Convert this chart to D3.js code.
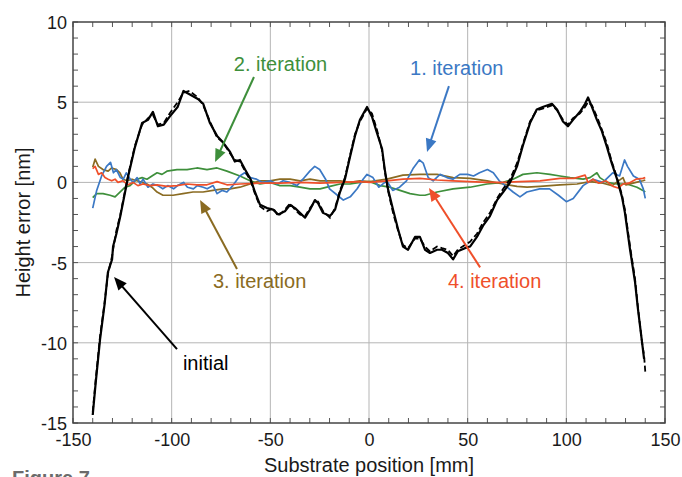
<!DOCTYPE html>
<html><head><meta charset="utf-8">
<script src="https://cdn.jsdelivr.net/npm/d3@7/dist/d3.min.js"></script>
<style>
body{margin:0;background:#fff}
text{font-family:"Liberation Sans",Arial,Helvetica,sans-serif}
</style>
</head><body>
<svg id="chart" width="682" height="477"></svg>
<script>
// ---------- data ----------
const xTicks = [-150,-100,-50,0,50,100,150];
const yTicks = [10,5,0,-5,-10,-15];

const initialPos = [-140,-138.5,-136.3,-134,-132.3,-130.2,-129.7,-128,-126,-122,-118.6,-115,-112,-109.5,-107,-104,-101,-97,-94,-91,-86.7,-84,-80.6,-77,-74,-70.4,-68,-65.4,-62.8,-60,-57.8,-55.2,-51.7,-48.6,-46,-42.6,-40,-37.5,-35,-32.4,-29.9,-27.4,-25.8,-23.3,-19.8,-17.2,-14.7,-12.2,-9.6,-7.1,-4.6,-1,1.5,4,6.6,8,9.6,12.2,14.7,17.2,19.8,23.3,25.8,28.4,30.9,34.5,37,40,42.6,45,48.6,51.2,54.7,57.8,61.3,64.9,68,71.5,75,78,81.6,85,88,92.7,95.3,98.3,100.8,103.4,106.9,109.5,111,113,115.5,118,120.6,123,125.7,128.2,129.7,132.3,134.8,136.3,138.4,139.4];
const initialErr = [-14.5,-12.5,-9.8,-7.6,-5.6,-4.8,-4.0,-3.2,-2.1,0.4,2.2,3.7,3.9,4.4,3.5,3.6,4.1,4.7,5.7,5.5,5.2,4.9,3.7,2.9,2.5,1.9,1.3,1.4,0.8,0.2,-0.6,-1.4,-1.6,-1.7,-2.0,-1.8,-1.4,-1.6,-1.9,-2.2,-1.7,-1.1,-1.3,-1.9,-2.1,-1.7,-0.6,0.2,1.6,2.9,3.9,4.7,4.1,3.1,2.1,0.8,-0.4,-1.7,-2.9,-4.0,-4.2,-3.4,-3.4,-4.2,-4.4,-4.2,-4.2,-4.4,-4.8,-4.3,-4.1,-4.0,-3.4,-2.7,-2.1,-1.1,-0.6,0,1.0,2.3,3.7,4.55,4.7,4.9,4.55,3.8,3.5,3.9,4.4,4.9,5.3,4.7,3.9,3.2,2.2,1.2,0.2,-0.9,-1.9,-4.2,-6.2,-7.9,-10.0,-11.0];

const simulatedPos = [-140,-138.5,-136.3,-134,-132.3,-130.2,-129.7,-128,-126,-122,-118.6,-115,-112,-109.5,-107,-104,-101,-97,-94,-91,-86.7,-84,-80.6,-77,-74,-70.4,-68,-65.4,-62.8,-60,-57.8,-55.2,-51.7,-48.6,-46,-42.6,-40,-37.5,-35,-32.4,-29.9,-27.4,-25.8,-23.3,-19.8,-17.2,-14.7,-12.2,-9.6,-7.1,-4.6,-1,1.5,4,6.6,8,9.6,12.2,14.7,17.2,19.8,23.3,25.8,28.4,30.9,34.5,37,40,42.6,45,48.6,51.2,54.7,57.8,61.3,64.9,68,71.5,75,78,81.6,85,88,92.7,95.3,98.3,100.8,103.4,106.9,109.5,111,113,115.5,118,120.6,123,125.7,128.2,129.7,132.3,134.8,136.3,138.4,139.4,140];
const simulatedErr = [-14.3,-12.3,-9.6,-7.5,-5.7,-4.6,-4.2,-3.0,-2.0,0.5,2.3,3.6,4.0,4.2,3.6,3.7,4.3,5.0,5.6,5.7,5.3,4.8,3.8,2.8,2.5,1.8,1.4,1.3,0.7,0.1,-0.7,-1.5,-1.8,-1.6,-2.1,-1.7,-1.3,-1.7,-2.0,-2.1,-1.6,-1.2,-1.2,-1.8,-2.2,-1.6,-0.5,0.3,1.7,3.0,3.8,4.6,4.3,3.3,2.0,0.7,-0.5,-1.9,-3.0,-3.9,-4.1,-3.5,-3.5,-4.0,-4.3,-4.0,-4.1,-4.2,-4.6,-4.2,-3.9,-3.7,-3.2,-2.5,-1.9,-1.0,-0.4,0.2,1.2,2.4,3.8,4.5,4.6,4.8,4.5,3.9,3.6,4.0,4.3,4.7,5.0,4.8,4.1,3.3,2.4,1.3,0.3,-0.8,-1.7,-4.0,-6.0,-7.8,-10.0,-10.8,-11.8];

const iter1Pos = [-140,-138,-135.5,-133,-131,-129.5,-128,-126,-124.5,-123,-121,-119.5,-117.5,-116,-114.5,-112,-109.5,-107,-104.5,-102,-99,-97,-94,-92,-89,-87,-84,-82,-79,-77,-74.5,-72,-69,-65.5,-63,-60,-57,-54,-50,-46.5,-43.5,-40,-36.5,-33.5,-30,-27.5,-25,-22,-20,-16,-13,-9.5,-6,-3,-1,2,5,9,12,15.5,19,22.5,25.5,27.5,30,32.5,36,39.5,42.5,46,50,53,56,60,63,66,70,73,76.5,80,86.5,91.5,96,100,103.5,108.5,113.5,118.5,123.5,127,129.5,131,134,137,139,140];
const iter1Err = [-1.6,-0.5,0.4,1.0,1.25,0.6,0.8,0.3,0.2,0.6,0.2,0.0,0.3,-0.1,0.2,-0.3,-0.1,-0.2,-0.4,-0.2,-0.4,-0.2,0.0,-0.3,-0.4,-0.2,-0.3,-0.4,-0.2,-0.7,-0.5,-0.6,-0.2,0.4,0.6,0.3,0.2,0.0,0.1,-0.1,0.1,0.0,-0.2,0.2,0.7,1.0,0.8,0.2,-0.4,-0.8,-1.1,-0.9,-0.4,0.2,0.5,0.3,-0.3,0.1,-0.5,-0.3,0.1,0.9,1.4,1.2,0.3,0.1,0.5,0.3,0.2,0.5,0.5,0.4,0.6,0.8,0.6,0.1,-0.3,-0.6,-0.9,-0.6,-0.4,-0.4,-0.8,-1.2,-1.0,-0.2,0.2,0.0,0.6,0.4,1.4,1.0,0.4,0.2,-0.4,-1.0];

const iter2Pos = [-140,-138,-134.8,-131.2,-128.7,-126.2,-123.6,-121.1,-117.6,-115,-112.5,-110,-107.4,-104.9,-102.4,-97.3,-92.2,-87.2,-82.1,-77,-72,-65.4,-60.3,-55.2,-50.2,-45.1,-40,-35,-29.9,-24.8,-19.8,-14.7,-9.6,-4.6,0.5,5.6,10.6,15.7,20.8,25.8,28.4,34.5,42.6,51.2,59.8,68,73,78,85.1,91.7,96.8,101.9,108.5,112,115.5,117,120.6,125.7,130.7,135.8,138.8,140];
const iter2Err = [-0.95,-0.7,-0.7,-0.8,-0.9,-0.6,-0.3,-0.2,0.2,0.3,0.2,0.4,0.6,0.5,0.7,0.8,0.8,0.9,0.8,0.9,0.7,0.4,0.1,-0.1,0,-0.2,-0.2,-0.3,-0.4,-0.4,-0.25,-0.1,-0.1,0,0.05,-0.2,-0.3,-0.5,-0.7,-0.8,-0.8,-0.6,-0.4,-0.3,-0.1,0,0.2,0.5,0.6,0.5,0.4,0.3,0.2,0.3,0.6,0.3,0,-0.1,-0.1,-0.3,-0.5,-0.6];

const iter3Pos = [-140,-138.8,-137.1,-134.8,-132.2,-130.4,-127.9,-126.2,-124.7,-122.6,-120.1,-117.6,-115,-112.5,-110,-107.4,-104.4,-99.3,-94.3,-89.2,-84.1,-79.1,-74,-70.4,-65.4,-60.3,-55.2,-50.2,-45.1,-40,-35,-29.9,-24.8,-19.8,-14.7,-9.6,-4.6,0.5,9.1,17.2,25.8,34.5,42.6,51.2,59.8,68,75,80.1,86.7,96.8,105.4,112,118.6,123.2,128.7,130.2,135.3,138.8,140];
const iter3Err = [0.95,1.45,1.0,0.8,0.7,0.9,0.8,0.6,0.2,0.1,0.2,0.1,0,-0.1,-0.3,-0.6,-0.8,-0.8,-0.7,-0.6,-0.6,-0.5,-0.4,-0.4,-0.3,-0.1,0.1,0.1,0.2,0.2,0.1,0.2,0.1,0.1,0.1,0,0.1,0.05,0.2,0.45,0.5,0.5,0.3,0.25,0.1,-0.1,-0.25,-0.3,-0.25,-0.15,-0.1,0.05,-0.05,-0.2,0.3,-0.15,0,0.1,0.15];

const iter4Pos = [-140,-138.8,-137.1,-135.5,-133.8,-132.2,-130.4,-128.7,-127.2,-124.7,-122.1,-119.6,-117.1,-114.5,-111,-107.4,-102.4,-97.3,-92.2,-87.2,-82.1,-77,-72,-65.4,-55.2,-45.1,-35,-24.8,-14.7,-4.6,0.5,9.1,17.2,25.8,34.5,42.6,51.2,59.8,68,76.5,86.7,96.8,103.9,109.5,111,113.5,116.5,120.1,123.7,126.2,128.7,131.7,135.3,138.8,140];
const iter4Err = [0.85,1.0,0.5,0.6,0.3,0.2,0.1,0.2,0,0.1,-0.15,0,-0.2,-0.1,-0.2,-0.15,-0.25,-0.2,-0.1,-0.15,-0.15,0.05,-0.15,-0.1,-0.05,-0.05,0,-0.05,0,0.05,0,0.1,0.2,0.25,0.15,0.1,0.05,0,0,0.05,0.1,0.25,0.25,0.45,0,0.2,-0.05,0.1,-0.25,-0.35,-0.1,-0.05,0.2,0.25,0.3];

// annotation labels: [text, x, y]
const labels = ["1. iteration","2. iteration","3. iteration","4. iteration","initial"];
const labelPos = [[20.8,6.7],[-68.5,6.94],[-79.1,-6.6],[40,-6.6],[-94.3,-11.7]];
// arrows: [tailX, tailY, headX, headY]
const arrows = [[40.5,6.0,29.4,1.9],[-58.3,6.57,-78.0,1.27],[-66.9,-5.4,-85.6,-1.1],[56.3,-5.3,30.4,-0.35],[-97.3,-10.4,-129.2,-5.9]];
const colors = ["#3b78c4","#3e8f3b","#8a6b22","#ef4f2a","#000000"];

// ---------- chart ----------
const W = 682, H = 477;
const m = {l:73, r:17, t:22, b:54};
const svg = d3.select("#chart");
svg.append("rect").attr("width",W).attr("height",H).attr("fill","#fff");

const x = d3.scaleLinear().domain([-150,150]).range([m.l, W-m.r]);
const y = d3.scaleLinear().domain([-15,10]).range([H-m.b, m.t]);

// grid
const g = svg.append("g");
g.selectAll("line.gx").data(xTicks.slice(1,-1)).join("line")
  .attr("x1",d=>x(d)).attr("x2",d=>x(d)).attr("y1",y(-15)).attr("y2",y(10))
  .attr("stroke","#b5b5b5").attr("stroke-width",1);
g.selectAll("line.gy").data(yTicks.slice(1,-1)).join("line")
  .attr("y1",d=>y(d)).attr("y2",d=>y(d)).attr("x1",x(-150)).attr("x2",x(150))
  .attr("stroke","#b5b5b5").attr("stroke-width",1);

// minor ticks (inward) on all four sides
const xMinor = d3.range(-150,151,10);
const yMinor = d3.range(-15,11,1);
const tk = 5, axCol = "#555";
const ax = svg.append("g").attr("stroke",axCol).attr("stroke-width",1);
xMinor.forEach(v=>{
  ax.append("line").attr("x1",x(v)).attr("x2",x(v)).attr("y1",y(-15)).attr("y2",y(-15)-tk);
  ax.append("line").attr("x1",x(v)).attr("x2",x(v)).attr("y1",y(10)).attr("y2",y(10)+tk);
});
yMinor.forEach(v=>{
  ax.append("line").attr("y1",y(v)).attr("y2",y(v)).attr("x1",x(-150)).attr("x2",x(-150)+tk);
  ax.append("line").attr("y1",y(v)).attr("y2",y(v)).attr("x1",x(150)).attr("x2",x(150)-tk);
});

// axes via d3 for labels (plain hyphen minus like the reference)
const fmt = d => String(d);
const xAxis = d3.axisBottom(x).tickValues(xTicks).tickSize(0).tickPadding(10).tickFormat(fmt);
const yAxis = d3.axisLeft(y).tickValues(yTicks).tickSize(0).tickPadding(6).tickFormat(fmt);
const gx = svg.append("g").attr("transform",`translate(0,${y(-15)})`).call(xAxis);
const gy = svg.append("g").attr("transform",`translate(${x(-150)},0)`).call(yAxis);
[gx,gy].forEach(a=>{
  a.select(".domain").remove();
  a.selectAll("text").attr("font-size",18).attr("fill","#1a1a1a")
   .attr("font-family","Liberation Sans, Arial, sans-serif");
});
gy.selectAll("text").attr("dy","0.36em");

// frame
svg.append("rect").attr("x",x(-150)).attr("y",y(10))
  .attr("width",x(150)-x(-150)).attr("height",y(-15)-y(10))
  .attr("fill","none").attr("stroke","#444").attr("stroke-width",1.5);

// lines
const line = d3.line().x(d=>x(d[0])).y(d=>y(d[1]));
const zip = (a,b)=>a.map((v,i)=>[v,b[i]]);
const plot = svg.append("g");
const series = [
  {p:iter2Pos,e:iter2Err,c:colors[1]},
  {p:iter3Pos,e:iter3Err,c:colors[2]},
  {p:iter1Pos,e:iter1Err,c:colors[0]},
  {p:iter4Pos,e:iter4Err,c:colors[3]},
];
series.forEach(s=>{
  plot.append("path").datum(zip(s.p,s.e)).attr("d",line)
    .attr("fill","none").attr("stroke",s.c).attr("stroke-width",1.7).attr("stroke-linejoin","round");
});
plot.append("path").datum(zip(simulatedPos,simulatedErr)).attr("d",line)
  .attr("fill","none").attr("stroke","#000").attr("stroke-width",1.8).attr("stroke-dasharray","6,3");
plot.append("path").datum(zip(initialPos,initialErr)).attr("d",line)
  .attr("fill","none").attr("stroke","#000").attr("stroke-width",2.2).attr("stroke-linejoin","round");

// arrows
const ann = svg.append("g");
arrows.forEach((a,i)=>{
  const x1=x(a[0]), y1=y(a[1]), x2=x(a[2]), y2=y(a[3]);
  const ang = Math.atan2(y2-y1,x2-x1);
  const L=13, Wd=5.5;
  const bx = x2 - L*Math.cos(ang), by = y2 - L*Math.sin(ang);
  ann.append("line").attr("x1",x1).attr("y1",y1).attr("x2",bx+2*Math.cos(ang)).attr("y2",by+2*Math.sin(ang))
    .attr("stroke",colors[i]).attr("stroke-width",2);
  const p = [[x2,y2],[bx - Wd*Math.sin(ang), by + Wd*Math.cos(ang)],[bx + Wd*Math.sin(ang), by - Wd*Math.cos(ang)]];
  ann.append("path").attr("d","M"+p.map(q=>q.join(",")).join("L")+"Z").attr("fill",colors[i]);
});
labels.forEach((t,i)=>{
  ann.append("text").attr("x",x(labelPos[i][0])).attr("y",y(labelPos[i][1]))
    .attr("font-size",20).attr("fill",colors[i]).text(t);
});

// axis titles
svg.append("text").attr("x",(x(-150)+x(150))/2).attr("y",472).attr("text-anchor","middle")
  .attr("font-size",20).attr("fill","#1a1a1a").text("Substrate position [mm]");
svg.append("text").attr("transform",`translate(30,${(y(10)+y(-15))/2}) rotate(-90)`)
  .attr("text-anchor","middle").attr("font-size",20).attr("fill","#1a1a1a").text("Height error [nm]");

// cropped figure caption (cut off at the bottom edge, as in the source)
svg.append("text").attr("x",12).attr("y",485).attr("font-size",20).attr("font-weight","bold")
  .attr("fill","#6b6b6b").text("Figure 7");
</script>
</body></html>
